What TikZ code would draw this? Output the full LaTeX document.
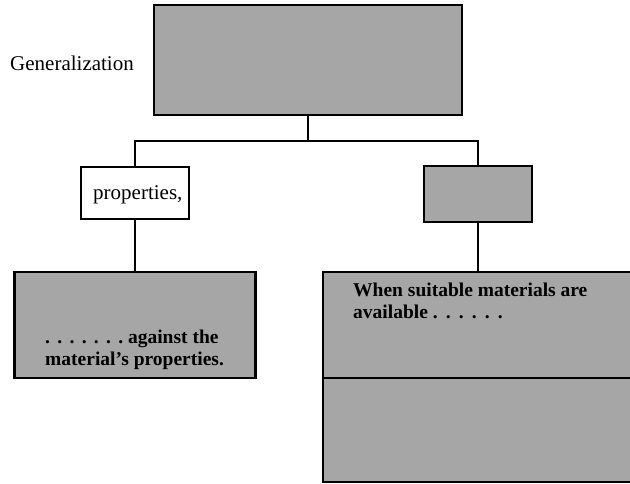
\documentclass[tikz,border=0pt]{standalone}
\usepackage{fontspec}
\setmainfont{Liberation Serif}
\newcommand{\dotrun}[2]{\hbox to #1{#2}}
\begin{document}
\begin{tikzpicture}[x=1pt,y=-1pt,
  shadebox/.style={draw=black, line width=2.4pt, fill=black!35, inner sep=0pt},
  whitebox/.style={draw=black, line width=2.4pt, fill=white, inner sep=0pt},
  conn/.style={line width=1.8pt},
  lab/.style={font=\fontsize{21}{23}\selectfont, inner sep=0pt},
  blab/.style={font=\fontsize{19.5}{21}\selectfont\bfseries, inner sep=0pt}]
\useasboundingbox (0,0) rectangle (630,484);
% boxes
\node[shadebox, minimum width=308pt, minimum height=110pt] (top) at (308,60) {};
\node[whitebox, minimum width=108pt, minimum height=52pt] (props) at (135,193) {};
\node[shadebox, minimum width=108pt, minimum height=56pt] (rsmall) at (478,194) {};
\node[shadebox, minimum width=241pt, minimum height=106pt] (lbox) at (135,325) {};
\node[shadebox, minimum width=322pt, minimum height=210pt] (rbox) at (484,377) {};
\draw[line width=2.4pt] ([yshift=-1pt]rbox.west) -- ([yshift=-1pt]rbox.east);
% connectors
\coordinate (joint) at (308,141);
\draw[conn] (top.south) -- (joint);
\draw[conn] (joint) -| (props.north);
\draw[conn] (joint) -| (rsmall.north);
\draw[conn] (props.south) -- (lbox.north);
\draw[conn] (rsmall.south) -- (rbox.north -| rsmall.south);
% texts
\node[lab, anchor=base west] (gen) at (10,71) {Generalization};
\node[lab, anchor=base west] (ptxt) at (93,200) {properties,};
\node[blab, anchor=base west] (la) at (45,343) {\dotrun{78pt}{.\hfil.\hfil.\hfil.\hfil.\hfil.\hfil.}\ against the};
\node[blab, anchor=base west] (lb) at (45,365) {material's properties.};
\node[blab, anchor=base west] (ra) at (353,297) {When suitable materials are};
\node[blab, anchor=base west] (rb) at (353,318) {available\ \dotrun{70pt}{.\hfil.\hfil.\hfil.\hfil.\hfil.}};
\end{tikzpicture}
\end{document}
